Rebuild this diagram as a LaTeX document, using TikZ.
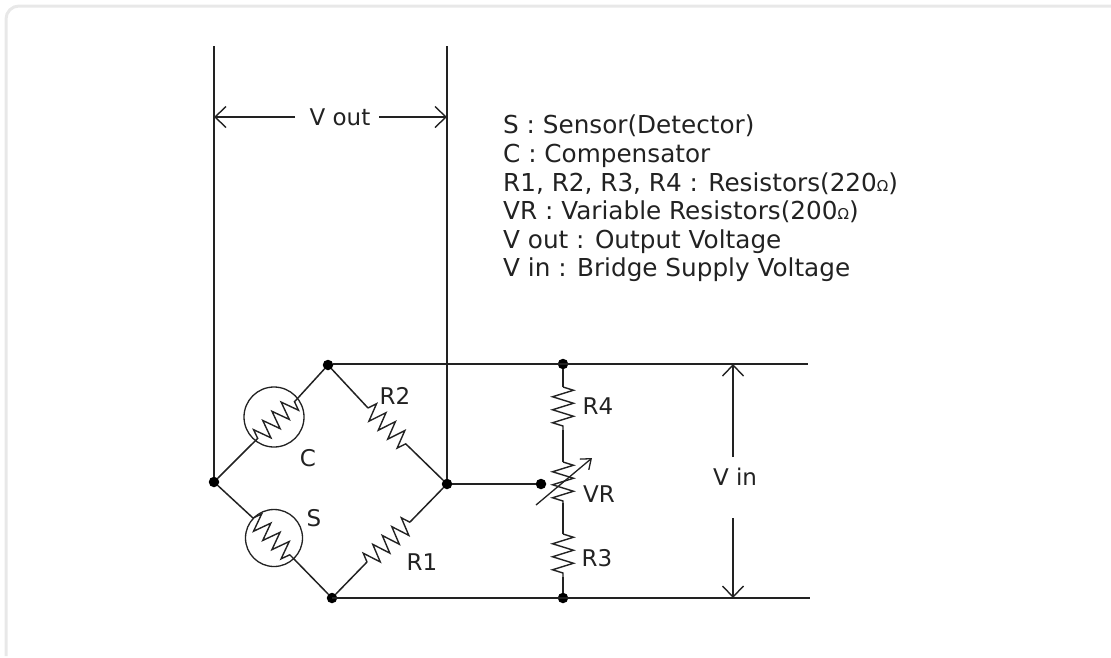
\documentclass[tikz,border=0pt]{standalone}
\usepackage{fontspec}
\setmainfont{DejaVu Sans}
\usetikzlibrary{arrows.meta,decorations.pathmorphing}
\definecolor{ink}{HTML}{222222}
\definecolor{cardline}{HTML}{E8E8E8}
\tikzset{
  x=1pt,y=-1pt,
  rail/.style={draw=ink,line width=2pt},
  wire/.style={draw=ink,line width=1.5pt},
  dot/.style={circle,fill=black,inner sep=0pt,minimum size=10.5pt},
  zz/.style={draw=ink,line width=1.4pt,decorate,decoration={zigzag,segment length=13pt,amplitude=#1}},
  zz/.default=9pt,
  element/.style={circle,draw=ink,line width=1.3pt,inner sep=0pt,fill=none},
  lab/.style={text=ink,font=\fontsize{23}{26}\selectfont,inner sep=0pt},
  dim/.style={draw=ink,line width=1.6pt,-{Straight Barb[length=11pt,width=21pt,line width=1.4pt]}},
}
\begin{document}
\begin{tikzpicture}
\useasboundingbox (0,0) rectangle (1111,657);
\draw[cardline,line width=3pt,rounded corners=13pt] (6,656) -- (6,6) -- (1125,6);
% junctions
\node[dot] (L) at (214,482) {};
\node[dot] (T) at (328,365) {};
\node[dot] (Rj) at (447,484) {};
\node[dot] (B) at (332,598) {};
\node[dot] (TV) at (563,364) {};
\node[dot] (BV) at (563,598) {};
\node[dot] (W) at (541,484) {};
\coordinate (LT) at (214,46);
\coordinate (RT) at (447,46);
\coordinate (TE) at (808,364);
\coordinate (BE) at (810,598);
% rails
\draw[rail] (LT) -- (L);
\draw[rail] (RT) -- (Rj);
\draw[rail] (T.east) ++(0,-1) -- (TE);
\draw[rail] (B.center) -- (BE);
\draw[rail] (Rj) -- (W);
% C
\node[element,minimum size=60pt] (C) at (274,417) {};
\coordinate (Ca) at (252,444); \coordinate (Cb) at (297,399);
\draw[wire] (L) -- (Ca);
\draw[wire] (Cb) -- (T);
\draw[zz,decoration={pre=lineto,pre length=8pt}] (Ca) -- (Cb);
% S
\node[element,minimum size=57pt] (S) at (274,538) {};
\coordinate (Sa) at (253,518); \coordinate (Sb) at (293,558);
\draw[wire] (L) -- (Sa);
\draw[wire] (Sb) -- (B);
\draw[zz] (Sa) -- (Sb);
% R2, R1
\coordinate (R2a) at (368,408); \coordinate (R2b) at (408,446);
\draw[wire] (T) -- (R2a);
\draw[wire] (R2b) -- (Rj);
\draw[zz] (R2a) -- (R2b);
\coordinate (R1a) at (367,562); \coordinate (R1b) at (410,522);
\draw[wire] (B) -- (R1a);
\draw[wire] (R1b) -- (Rj);
\draw[zz] (R1a) -- (R1b);
% right branch
\coordinate (R4a) at (563,387); \coordinate (R4b) at (563,430);
\coordinate (VRa) at (563,462); \coordinate (VRb) at (563,503);
\coordinate (R3a) at (563,534); \coordinate (R3b) at (563,577);
\draw[wire] (TV) -- (R4a);
\draw[zz=10.5pt] (R4a) -- (R4b);
\draw[wire] (R4b) -- (VRa);
\draw[zz=10.5pt] (VRa) -- (VRb);
\draw[wire] (VRb) -- (R3a);
\draw[zz=10.5pt] (R3a) -- (R3b);
\draw[wire] (R3b) -- (BV);
\coordinate (VAa) at (536,505); \coordinate (VAb) at (592,458);
\draw[draw=ink,line width=1.3pt,-{Straight Barb[length=9pt,width=14pt,line width=1.3pt]}] (VAa) -- (VAb);
% V out
\node[lab] (Vout) at (340,117) {V out};
\coordinate (VOl) at (214,117); \coordinate (VOr) at (447,117);
\coordinate (VOa) at (295,117); \coordinate (VOb) at (379,117);
\draw[dim] (VOa) -- (VOl);
\draw[dim] (VOb) -- (VOr);
% V in
\node[lab] (Vin) at (735,477) {V in};
\coordinate (VIt) at (733,364); \coordinate (VIb) at (733,598);
\coordinate (VIm1) at (733,457); \coordinate (VIm2) at (733,518);
\draw[dim] (VIm1) -- (VIt);
\draw[dim] (VIm2) -- (VIb);
% labels
\node[lab] (lC) at (308,458) {C};
\node[lab] (lS) at (314,518) {S};
\node[lab] (lR2) at (395,396) {R2};
\node[lab] (lR1) at (422,562) {R1};
\node[lab] (lR4) at (598,406) {R4};
\node[lab] (lVR) at (599,494) {VR};
\node[lab] (lR3) at (597,558) {R3};
% legend
\node[text=ink,inner sep=0pt,anchor=north west,align=left,font=\fontsize{24.7}{28.6}\selectfont] (legend) at (503,115)
 {S : Sensor(Detector)\\
  C : Compensator\\
  R1, R2, R3, R4 : Resistors(220{\fontsize{15}{15}\selectfont Ω})\\
  VR : Variable Resistors(200{\fontsize{15}{15}\selectfont Ω})\\
  V out : Output Voltage\\
  V in : Bridge Supply Voltage};
\end{tikzpicture}
\end{document}
